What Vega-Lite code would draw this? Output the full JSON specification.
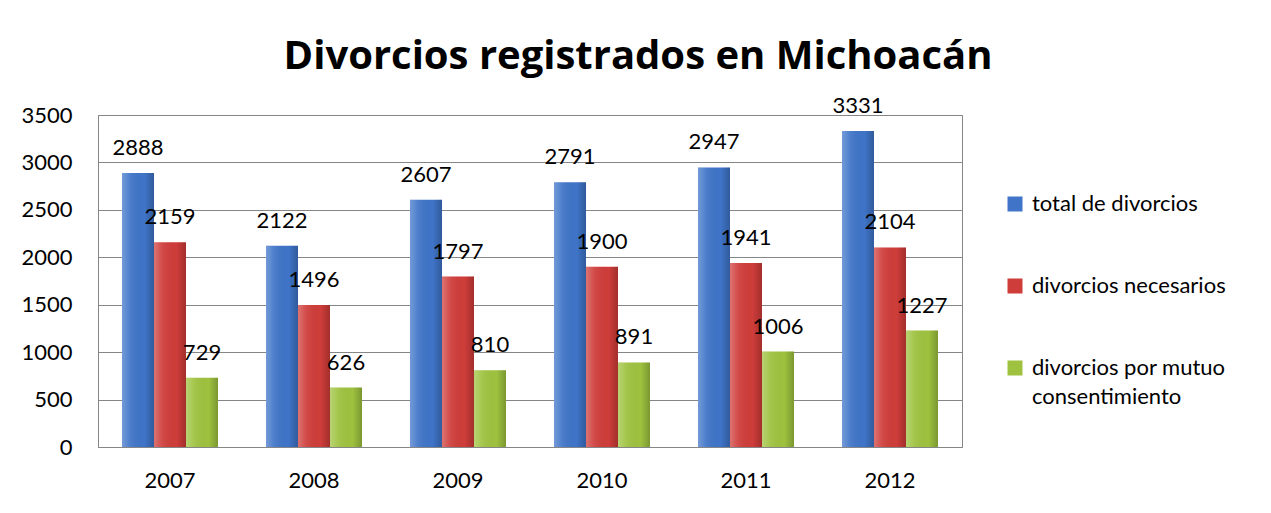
{
  "$schema": "https://vega.github.io/schema/vega-lite/v6.json",
  "width": 864,
  "height": 332,
  "autosize": {"type": "none"},
  "padding": {"left": 98, "top": 115, "right": 309, "bottom": 66},
  "background": "white",
  "title": {
    "text": "Divorcios registrados en Michoacán",
    "font": "Open Sans",
    "fontSize": 40,
    "fontWeight": "bold",
    "color": "black",
    "anchor": "middle",
    "dx": 108,
    "offset": 18
  },
  "config": {
    "view": {"stroke": "#868686", "strokeWidth": 1},
    "font": "Lato"
  },
  "data": {
    "values": [
      {"year": "2007", "series": "total de divorcios", "value": 2888},
      {"year": "2007", "series": "divorcios necesarios", "value": 2159},
      {"year": "2007", "series": "divorcios por mutuo consentimiento", "value": 729},
      {"year": "2008", "series": "total de divorcios", "value": 2122},
      {"year": "2008", "series": "divorcios necesarios", "value": 1496},
      {"year": "2008", "series": "divorcios por mutuo consentimiento", "value": 626},
      {"year": "2009", "series": "total de divorcios", "value": 2607},
      {"year": "2009", "series": "divorcios necesarios", "value": 1797},
      {"year": "2009", "series": "divorcios por mutuo consentimiento", "value": 810},
      {"year": "2010", "series": "total de divorcios", "value": 2791},
      {"year": "2010", "series": "divorcios necesarios", "value": 1900},
      {"year": "2010", "series": "divorcios por mutuo consentimiento", "value": 891},
      {"year": "2011", "series": "total de divorcios", "value": 2947},
      {"year": "2011", "series": "divorcios necesarios", "value": 1941},
      {"year": "2011", "series": "divorcios por mutuo consentimiento", "value": 1006},
      {"year": "2012", "series": "total de divorcios", "value": 3331},
      {"year": "2012", "series": "divorcios necesarios", "value": 2104},
      {"year": "2012", "series": "divorcios por mutuo consentimiento", "value": 1227}
    ]
  },
  "encoding": {
    "x": {
      "field": "year",
      "type": "nominal",
      "scale": {"paddingInner": 0.3333, "paddingOuter": 0.1667},
      "axis": {
        "title": null,
        "labelAngle": 0,
        "labelFont": "Lato",
        "labelFontSize": 22,
        "labelColor": "black",
        "ticks": false,
        "tickSize": 0,
        "labelPadding": 23,
        "domain": true,
        "domainColor": "#868686"
      }
    },
    "xOffset": {
      "field": "series",
      "type": "nominal",
      "sort": ["total de divorcios", "divorcios necesarios", "divorcios por mutuo consentimiento"],
      "scale": {"paddingInner": 0, "paddingOuter": 0}
    },
    "y": {
      "field": "value",
      "type": "quantitative",
      "scale": {"domain": [0, 3500], "nice": false},
      "axis": {
        "title": null,
        "values": [0, 500, 1000, 1500, 2000, 2500, 3000, 3500],
        "format": "d",
        "labelFont": "Lato",
        "labelFontSize": 22,
        "labelColor": "black",
        "ticks": false,
        "tickSize": 0,
        "labelPadding": 26,
        "domain": false,
        "grid": true,
        "gridColor": "#868686",
        "gridWidth": 1
      }
    }
  },
  "layer": [
    {
      "mark": {"type": "bar"},
      "encoding": {
        "color": {
          "field": "series",
          "type": "nominal",
          "sort": ["total de divorcios", "divorcios necesarios", "divorcios por mutuo consentimiento"],
          "scale": {
            "domain": ["total de divorcios", "divorcios necesarios", "divorcios por mutuo consentimiento"],
            "range": ["#3f74c8", "#cf3d3a", "#9ec23f"]
          },
          "legend": {
            "title": null,
            "orient": "none",
            "legendX": 906,
            "legendY": 78,
            "padding": 0,
            "symbolType": "square",
            "symbolSize": 225,
            "symbolStrokeWidth": 0,
            "symbolOpacity": 1,
            "labelFont": "Lato",
            "labelFontSize": 22,
            "labelColor": "black",
            "labelOffset": 6,
            "labelLimit": 400,
            "rowPadding": 60,
            "labelExpr": "datum.label == 'divorcios por mutuo consentimiento' ? ['divorcios por mutuo', 'consentimiento'] : datum.label",
            "encode": {
              "labels": {"update": {"lineHeight": {"value": 29}}}
            }
          }
        }
      }
    },
    {
      "mark": {
        "type": "bar",
        "fill": {
          "gradient": "linear",
          "x1": 0, "y1": 0, "x2": 1, "y2": 0,
          "stops": [
            {"offset": 0, "color": "rgba(255,255,255,0.28)"},
            {"offset": 0.25, "color": "rgba(255,255,255,0.08)"},
            {"offset": 0.7, "color": "rgba(0,0,0,0)"},
            {"offset": 1, "color": "rgba(0,0,0,0.22)"}
          ]
        }
      }
    },
    {
      "mark": {
        "type": "text",
        "baseline": "middle",
        "align": "center",
        "dy": -25,
        "font": "Lato",
        "fontSize": 22,
        "color": "black"
      },
      "encoding": {
        "text": {"field": "value", "type": "quantitative", "format": "d"}
      }
    }
  ]
}
